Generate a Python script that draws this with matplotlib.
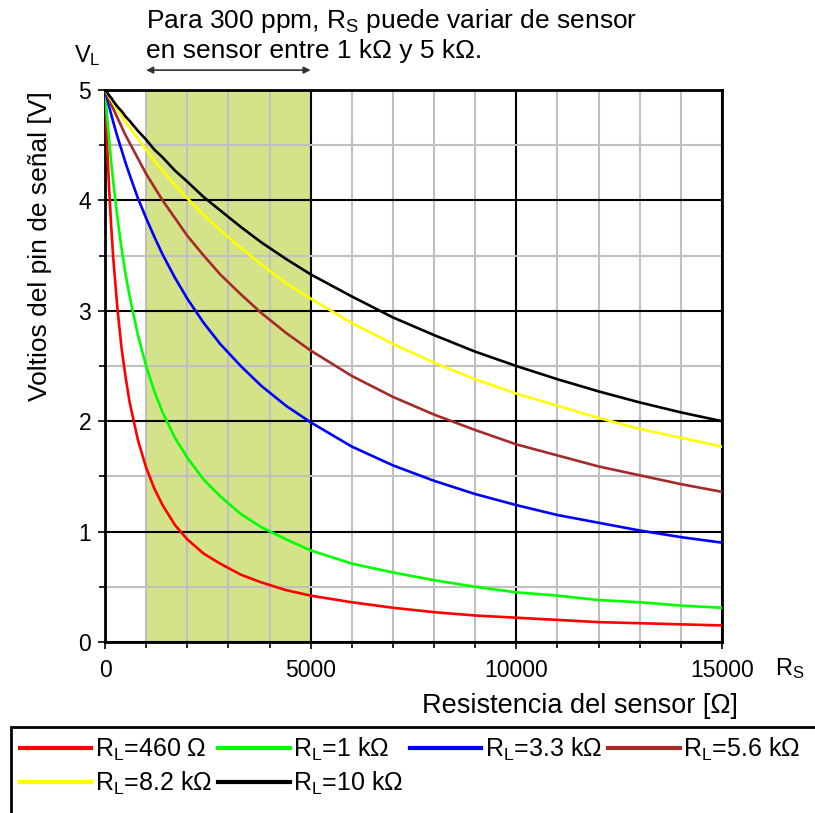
import matplotlib
matplotlib.use("Agg")
import matplotlib.pyplot as plt
from matplotlib.patches import Rectangle

plt.rcParams['font.family'] = ['Liberation Sans', 'DejaVu Sans']
plt.rcParams['mathtext.fontset'] = 'custom'
plt.rcParams['mathtext.rm'] = 'Liberation Sans'
plt.rcParams['mathtext.it'] = 'Liberation Sans'

# sensor resistance [ohm]
rs = [0, 50, 100, 150, 200, 300, 400, 500, 600, 800, 1000, 1200, 1400, 1700, 2000, 2400,
      2800, 3300, 3800, 4400, 5000, 6000, 7000, 8000, 9000, 10000, 11000, 12000, 13000,
      14000, 15000]

# signal voltage, one list per load resistor
v_460 = [5.00, 4.51, 4.11, 3.77, 3.48, 3.03, 2.67, 2.40, 2.17, 1.83, 1.58, 1.39, 1.24, 1.06,
         0.93, 0.80, 0.71, 0.61, 0.54, 0.47, 0.42, 0.36, 0.31, 0.27, 0.24, 0.22, 0.20, 0.18,
         0.17, 0.16, 0.15]
v_1k = [5.00, 4.76, 4.55, 4.35, 4.17, 3.85, 3.57, 3.33, 3.13, 2.78, 2.50, 2.27, 2.08, 1.85,
        1.67, 1.47, 1.32, 1.16, 1.04, 0.93, 0.83, 0.71, 0.63, 0.56, 0.50, 0.45, 0.42, 0.38,
        0.36, 0.33, 0.31]
v_3k3 = [5.00, 4.93, 4.85, 4.78, 4.71, 4.58, 4.46, 4.34, 4.23, 4.02, 3.84, 3.67, 3.51, 3.30,
         3.11, 2.89, 2.70, 2.50, 2.32, 2.14, 1.99, 1.77, 1.60, 1.46, 1.34, 1.24, 1.15, 1.08,
         1.01, 0.95, 0.90]
v_5k6 = [5.00, 4.96, 4.91, 4.87, 4.83, 4.75, 4.67, 4.59, 4.52, 4.38, 4.24, 4.12, 4.00, 3.84,
         3.68, 3.50, 3.33, 3.15, 2.98, 2.80, 2.64, 2.41, 2.22, 2.06, 1.92, 1.79, 1.69, 1.59,
         1.51, 1.43, 1.36]
v_8k2 = [5.00, 4.97, 4.94, 4.91, 4.88, 4.82, 4.77, 4.71, 4.66, 4.56, 4.46, 4.36, 4.27, 4.14,
         4.02, 3.87, 3.73, 3.57, 3.42, 3.25, 3.11, 2.89, 2.70, 2.53, 2.38, 2.25, 2.14, 2.03,
         1.93, 1.85, 1.77]
v_10k = [5.00, 4.98, 4.95, 4.93, 4.90, 4.85, 4.81, 4.76, 4.72, 4.63, 4.55, 4.46, 4.39, 4.27,
         4.17, 4.03, 3.91, 3.76, 3.62, 3.47, 3.33, 3.13, 2.94, 2.78, 2.63, 2.50, 2.38, 2.27,
         2.17, 2.08, 2.00]

series = [v_460, v_1k, v_3k3, v_5k6, v_8k2, v_10k]
labels = [r'$\mathregular{R_L}$=460 Ω', r'$\mathregular{R_L}$=1 kΩ', r'$\mathregular{R_L}$=3.3 kΩ',
          r'$\mathregular{R_L}$=5.6 kΩ', r'$\mathregular{R_L}$=8.2 kΩ', r'$\mathregular{R_L}$=10 kΩ']
colors = ['#ff0000', '#00ff00', '#0000ff', '#a52a2a', '#ffff00', '#000000']

band = (1000, 5000)

W, H = 815, 813


def px(x, y):
    return x / W, 1 - y / H


fig = plt.figure(figsize=(W / 100, H / 100), dpi=100)
ax = fig.add_axes([105 / W, 1 - 642 / H, 617 / W, 552 / H])

ax.axvspan(band[0], band[1], color='#d4e28a', zorder=0.2, lw=0)
ax.set_axisbelow(True)

lines = []
for v, lab, c in zip(series, labels, colors):
    l, = ax.plot(rs, v, color=c, lw=1.9, label=lab, zorder=3)
    lines.append(l)

ax.set_xlim(0, 15000)
ax.set_ylim(0, 5)
ax.set_xticks([0, 5000, 10000, 15000])
ax.set_xticks(range(0, 15001, 1000), minor=True)
ax.set_yticks([0, 1, 2, 3, 4, 5])
ax.set_yticks([0.5, 1.5, 2.5, 3.5, 4.5], minor=True)
ax.grid(which='minor', color='#c0c0c0', lw=1.5)
ax.grid(which='major', color='black', lw=1.5)
ax.tick_params(which='both', direction='out', labelsize=16.5, width=1.2)
ax.tick_params(axis='x', which='major', length=5, pad=7)
ax.tick_params(axis='y', which='major', length=5, pad=5)
ax.tick_params(which='minor', length=4)
for s in ax.spines.values():
    s.set_linewidth(2)

# axis texts
fig.text(*px(40, 246), 'Voltios del pin de señal [V]', rotation=90, ha='center', va='center', fontsize=19)
fig.text(*px(580, 713), 'Resistencia del sensor [Ω]', ha='center', va='baseline', fontsize=19.5)
fig.text(*px(74, 62), r'$\mathregular{V_L}$', ha='left', va='baseline', fontsize=17)
fig.text(*px(775, 675), r'$\mathregular{R_S}$', ha='left', va='baseline', fontsize=17)
fig.text(*px(146, 28), 'Para 300 ppm, $\\mathregular{R_S}$ puede variar de sensor',
         ha='left', va='baseline', fontsize=19)
fig.text(*px(146, 58), 'en sensor entre 1 kΩ y 5 kΩ.', ha='left', va='baseline', fontsize=19)

ax.annotate('', xy=(band[0], 1.036), xytext=(band[1], 1.036), xycoords=ax.get_xaxis_transform(),
            arrowprops=dict(arrowstyle='<|-|>', color='#333333', lw=1.2, mutation_scale=10,
                            shrinkA=0, shrinkB=0), annotation_clip=False)

# legend box running off the page
fig.patches.append(Rectangle(px(11, 840), 830 / W, 113 / H, transform=fig.transFigure,
                             fill=False, edgecolor='black', lw=2))
order = [0, 4, 1, 5, 2, 3]
fig.legend([lines[i] for i in order], [labels[i] for i in order], ncol=4, frameon=False,
           loc='upper left', bbox_to_anchor=px(20, 736), fontsize=18, handlelength=2.85,
           handletextpad=0.15, columnspacing=0.25, borderaxespad=0, borderpad=0,
           labelspacing=0.25)
for l in fig.legends[0].get_lines():
    l.set_linewidth(3)

fig.savefig('out.png', dpi=100)
